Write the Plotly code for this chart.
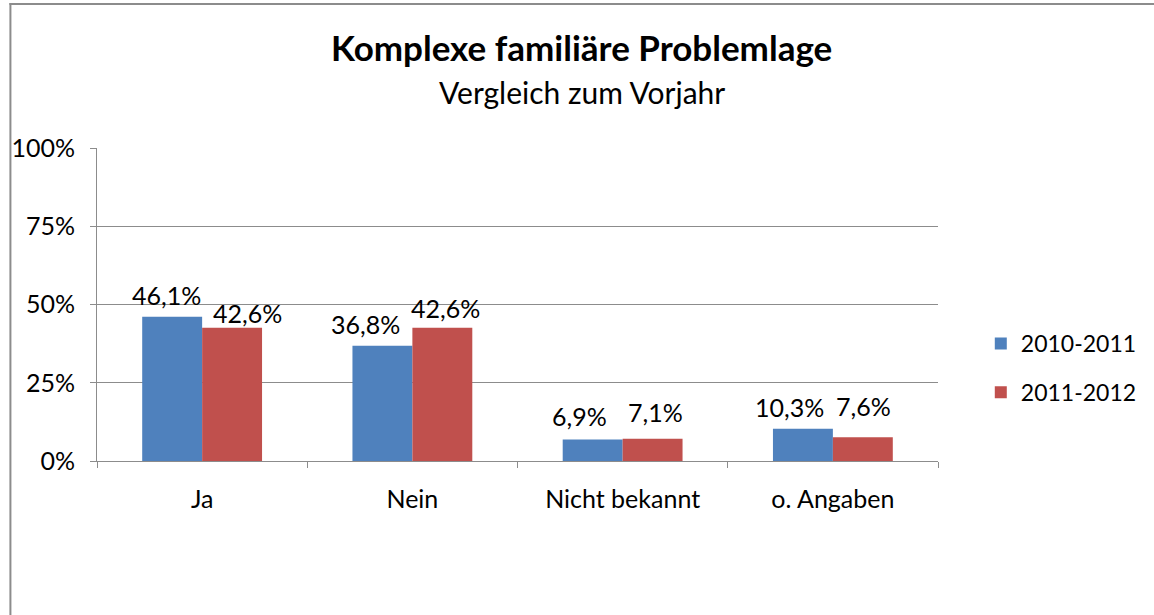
import plotly.graph_objects as go

categories = ["Ja", "Nein", "Nicht bekannt", "o. Angaben"]
series_names = ["2010-2011", "2011-2012"]
values_2010_2011 = [46.1, 36.8, 6.9, 10.3]
values_2011_2012 = [42.6, 42.6, 7.1, 7.6]
y_ticks = [0, 25, 50, 75, 100]
y_tick_labels = ["0%", "25%", "50%", "75%", "100%"]
colors = ["#4F81BD", "#C0504D"]

# label placement (pixel offsets relative to category centre / bar top), styling only
label_dx = [[-36, -47, -43, -43], [45, 33, 33, 31]]
label_dy = [[5, 5, 6, 5], [-2, 3, 10, 14]]

FONT = "Lato, Calibri, sans-serif"

def fmt(v):
    return f"{v:.1f}%".replace(".", ",")

fig = go.Figure()
annotations = []
for i, (name, vals, col) in enumerate(zip(series_names, [values_2010_2011, values_2011_2012], colors)):
    fig.add_trace(go.Bar(
        x=categories, y=vals, name=name, legendgroup=name,
        marker=dict(color=col, line=dict(width=0)),
        hoverinfo="skip",
    ))
    for j, (c, v) in enumerate(zip(categories, vals)):
        annotations.append(dict(
            x=c, y=v, xref="x", yref="y", text=fmt(v), showarrow=False,
            xanchor="center", yanchor="bottom",
            xshift=label_dx[i][j], yshift=label_dy[i][j],
            font=dict(size=25, family=FONT, color="#000000"),
        ))

W, H = 1154, 615
# target plot area in page pixels: x 97..942, y 148..461
L, T = 97, 148
R, B = (1154 - 942), (615 - 461)
pw, ph = 942 - 97, 461 - 148

def px(xp):
    return (xp - 97) / pw

def py(yp):
    return (461 - yp) / ph

annotations += [
    dict(text="<b>Komplexe familiäre Problemlage</b>", xref="paper", yref="paper",
         x=px(584), y=py(47), xanchor="center", yanchor="middle",
         showarrow=False, font=dict(size=35, family=FONT)),
    dict(text="Vergleich zum Vorjahr", xref="paper", yref="paper",
         x=px(584), y=py(92), xanchor="center", yanchor="middle",
         showarrow=False, font=dict(size=30, family=FONT)),
]

border = dict(color="#8c8c8c", width=2)
fig.update_layout(
    width=W, height=H,
    margin=dict(l=L, r=R, t=T, b=B),
    paper_bgcolor="white", plot_bgcolor="white",
    barmode="group", bargap=0.43, bargroupgap=0,
    font=dict(family=FONT, color="#000000"),
    showlegend=True,
    legend=dict(x=px(985), y=py(322), xanchor="left", yanchor="top",
                font=dict(size=23, family=FONT), tracegroupgap=16, itemwidth=30),
    annotations=annotations,
    shapes=[
        dict(type="line", xref="paper", yref="paper",
             x0=px(10), x1=px(10), y0=py(620), y1=py(3), line=border, layer="below"),
        dict(type="line", xref="paper", yref="paper",
             x0=px(9), x1=px(1160), y0=py(4), y1=py(4), line=border, layer="below"),
    ],
)

fig.update_yaxes(
    range=[0, 100], tickvals=y_ticks, ticktext=y_tick_labels,
    showgrid=True, gridcolor="#8c8c8c", gridwidth=1,
    showline=True, linecolor="#8c8c8c", linewidth=1,
    ticks="outside", ticklen=6, tickcolor="#8c8c8c",
    tickfont=dict(size=25, family=FONT), ticklabelstandoff=10,
    zeroline=False, fixedrange=True,
)
fig.update_xaxes(
    showline=True, linecolor="#8c8c8c", linewidth=1,
    ticks="outside", ticklen=6, tickcolor="#8c8c8c", tickson="boundaries",
    tickfont=dict(size=25, family=FONT), ticklabelstandoff=16,
    showgrid=False, fixedrange=True,
)

fig.write_html("out.html", config={"displayModeBar": False},
               post_script="document.body.style.margin='0px';document.body.style.overflow='hidden';")
